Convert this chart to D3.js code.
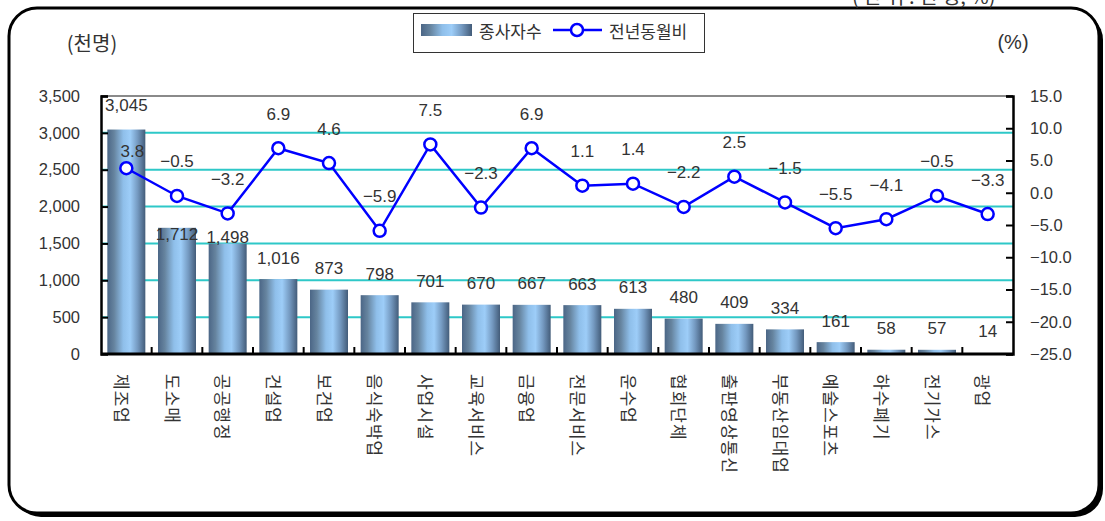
<!DOCTYPE html>
<html>
<head>
<meta charset="utf-8">
<script src="https://cdn.jsdelivr.net/npm/d3@7"></script>
<style>
  html, body { margin: 0; padding: 0; background: #fff; }
  svg { display: block; }
  text { font-family: "Liberation Sans", Arial, "Noto Sans CJK KR", sans-serif; fill: #333; }
  .kr { font-family: "Noto Sans CJK KR", sans-serif; }
</style>
</head>
<body>
<svg id="chart" width="1105" height="521"></svg>
<script>
// Industries (서울 종사자수, 천명) and year-on-year change (%)
const categories = ["제조업", "도소매", "공공행정", "건설업", "보건업", "음식숙박업", "사업시설", "교육서비스", "금융업",
  "전문서비스", "운수업", "협회단체", "출판영상통신", "부동산임대업", "예술스포츠", "하수폐기", "전기가스", "광업"];
const workers = [3045, 1712, 1498, 1016, 873, 798, 701, 670, 667, 663, 613, 480, 409, 334, 161, 58, 57, 14];
const yoyChange = [3.8, -0.5, -3.2, 6.9, 4.6, -5.9, 7.5, -2.3, 6.9, 1.1, 1.4, -2.2, 2.5, -1.5, -5.5, -4.1, -0.5, -3.3];
const leftTicks = [0, 500, 1000, 1500, 2000, 2500, 3000, 3500];
const rightTicks = [-25, -20, -15, -10, -5, 0, 5, 10, 15];
const seriesNames = ["종사자수", "전년동월비"];

// label placement tweaks where labels would collide with the line
const barLabelLift = { "제조업": 24, "도소매": -7, "공공행정": 6 };
const lineLabelLift = { "제조업": 17 };
const lineLabelShift = { "제조업": 6 };

const svg = d3.select("#chart");
const plot = { left: 101, right: 1013, top: 96, bottom: 354 };

const fmtThousands = d3.format(",");
const minus = s => s.replace(/-/g, "−");

const x = d3.scaleBand().domain(categories).range([plot.left, plot.right])
  .paddingInner(0.25).paddingOuter(0.125);
const yL = d3.scaleLinear().domain([0, 3500]).range([plot.bottom, plot.top]);
const yR = d3.scaleLinear().domain([-25, 15]).range([plot.bottom, plot.top]);
const cx = d => x(d) + x.bandwidth() / 2;

// gradient used for the bars
const defs = svg.append("defs");
const grad = defs.append("linearGradient").attr("id", "barGrad")
  .attr("x1", "0%").attr("x2", "100%").attr("y1", "0%").attr("y2", "0%");
[[0, "#4b6686"], [0.18, "#66849f"], [0.42, "#8fbfea"], [0.6, "#9dcdf8"], [0.8, "#7499c0"], [1, "#435c79"]]
  .forEach(([o, c]) => grad.append("stop").attr("offset", o).attr("stop-color", c));

// outer rounded frame with shadow
const frame = { x: 9, y: 8, w: 1090, h: 505, r: 28 };
svg.append("rect").attr("x", frame.x + 4).attr("y", frame.y + 4)
  .attr("width", frame.w).attr("height", frame.h).attr("rx", frame.r)
  .attr("fill", "#000");
svg.append("rect").attr("x", frame.x).attr("y", frame.y)
  .attr("width", frame.w).attr("height", frame.h).attr("rx", frame.r)
  .attr("fill", "#fff").attr("stroke", "#000").attr("stroke-width", 3);

// unit note at the very top (partly cut off)
svg.append("text").attr("class", "kr").attr("x", 852).attr("y", 4)
  .attr("font-size", 20).text("( 단 위 : 천 명, %)");

// gridlines
svg.append("g").selectAll("line").data(leftTicks.filter(t => t > 0 && t < 3500)).join("line")
  .attr("x1", plot.left).attr("x2", plot.right)
  .attr("y1", d => yL(d)).attr("y2", d => yL(d))
  .attr("stroke", "#2ec8c8").attr("stroke-width", 2);
svg.append("line").attr("x1", plot.left).attr("x2", plot.right)
  .attr("y1", plot.top).attr("y2", plot.top)
  .attr("stroke", "#8a8a8a").attr("stroke-width", 2);

// bars
svg.append("g").selectAll("rect").data(categories).join("rect")
  .attr("x", d => x(d)).attr("width", x.bandwidth())
  .attr("y", (d, i) => yL(workers[i]))
  .attr("height", (d, i) => yL(0) - yL(workers[i]))
  .attr("fill", "url(#barGrad)");

// axes
const leftAxis = d3.axisLeft(yL).tickValues(leftTicks).tickSize(-7).tickPadding(21).tickFormat(fmtThousands);
const gL = svg.append("g").attr("transform", `translate(${plot.left},0)`).call(leftAxis);
const rightAxis = d3.axisRight(yR).tickValues(rightTicks).tickSize(-7).tickPadding(17).tickFormat(d => minus(d3.format(".1f")(d)));
const gR = svg.append("g").attr("transform", `translate(${plot.right},0)`).call(rightAxis);
[gL, gR].forEach(g => {
  g.select(".domain").attr("stroke", "#000").attr("stroke-width", 2.5);
  g.selectAll(".tick line").attr("stroke", "#000").attr("stroke-width", 2);
  g.selectAll(".tick text").attr("font-size", 16.5).attr("fill", "#333")
    .attr("font-family", "Liberation Sans, Arial, sans-serif");
});
// remove the tick line that sits on the bottom frame
gL.selectAll(".tick line").filter(d => d === 0).remove();

// bottom axis with ticks between categories
svg.append("line").attr("x1", plot.left).attr("x2", plot.right)
  .attr("y1", plot.bottom).attr("y2", plot.bottom)
  .attr("stroke", "#000").attr("stroke-width", 3);
const step = x.step();
svg.append("g").selectAll("line").data(categories.slice(1)).join("line")
  .attr("x1", d => x(d) - step * x.paddingInner() / 2)
  .attr("x2", d => x(d) - step * x.paddingInner() / 2)
  .attr("y1", plot.bottom).attr("y2", plot.bottom - 7)
  .attr("stroke", "#000").attr("stroke-width", 2);

// category labels, rotated to read downward
svg.append("g").selectAll("text").data(categories).join("text")
  .attr("class", "kr")
  .attr("transform", d => `translate(${cx(d) - 4},374) rotate(90)`)
  .attr("dominant-baseline", "central")
  .attr("font-size", 17).attr("letter-spacing", 1).attr("fill", "#222")
  .text(d => d);

// bar value labels
svg.append("g").selectAll("text").data(categories).join("text")
  .attr("x", d => cx(d))
  .attr("y", (d, i) => yL(workers[i]) - (barLabelLift[d] !== undefined ? barLabelLift[d] : 21))
  .attr("text-anchor", "middle").attr("dominant-baseline", "central")
  .attr("font-size", 17).text((d, i) => fmtThousands(workers[i]));

// year-on-year line
const line = d3.line().x(d => cx(d)).y((d, i) => yR(yoyChange[i]));
svg.append("path").datum(categories).attr("d", line)
  .attr("fill", "none").attr("stroke", "#0000ff").attr("stroke-width", 2.5);
svg.append("g").selectAll("circle").data(categories).join("circle")
  .attr("cx", d => cx(d)).attr("cy", (d, i) => yR(yoyChange[i])).attr("r", 6)
  .attr("fill", "#fff").attr("stroke", "#0000ff").attr("stroke-width", 2.5);
svg.append("g").selectAll("text").data(categories).join("text")
  .attr("x", d => cx(d) + (lineLabelShift[d] || 0))
  .attr("y", (d, i) => yR(yoyChange[i]) - (lineLabelLift[d] || 34))
  .attr("text-anchor", "middle").attr("dominant-baseline", "central")
  .attr("font-size", 17).text((d, i) => minus(d3.format(".1f")(yoyChange[i])));

// axis titles
svg.append("text").attr("class", "kr").attr("x", 92).attr("y", 42)
  .attr("text-anchor", "middle").attr("dominant-baseline", "central")
  .attr("font-size", 20).text("(천명)");
svg.append("text").attr("x", 1013).attr("y", 42)
  .attr("text-anchor", "middle").attr("dominant-baseline", "central")
  .attr("font-size", 20).text("(%)");

// legend
const lg = svg.append("g");
lg.append("rect").attr("x", 413.5).attr("y", 13.5).attr("width", 291).attr("height", 39)
  .attr("fill", "#fff").attr("stroke", "#333").attr("stroke-width", 1);
lg.append("rect").attr("x", 421).attr("y", 24).attr("width", 51).attr("height", 12)
  .attr("fill", "url(#barGrad)");
lg.append("text").attr("class", "kr").attr("x", 479).attr("y", 30)
  .attr("dominant-baseline", "central").attr("font-size", 17).text(seriesNames[0]);
lg.append("line").attr("x1", 553).attr("x2", 602).attr("y1", 30).attr("y2", 30)
  .attr("stroke", "#0000ff").attr("stroke-width", 2.5);
lg.append("circle").attr("cx", 577).attr("cy", 30).attr("r", 6)
  .attr("fill", "#fff").attr("stroke", "#0000ff").attr("stroke-width", 2.5);
lg.append("text").attr("class", "kr").attr("x", 609).attr("y", 30)
  .attr("dominant-baseline", "central").attr("font-size", 17).text(seriesNames[1]);
</script>
</body>
</html>
